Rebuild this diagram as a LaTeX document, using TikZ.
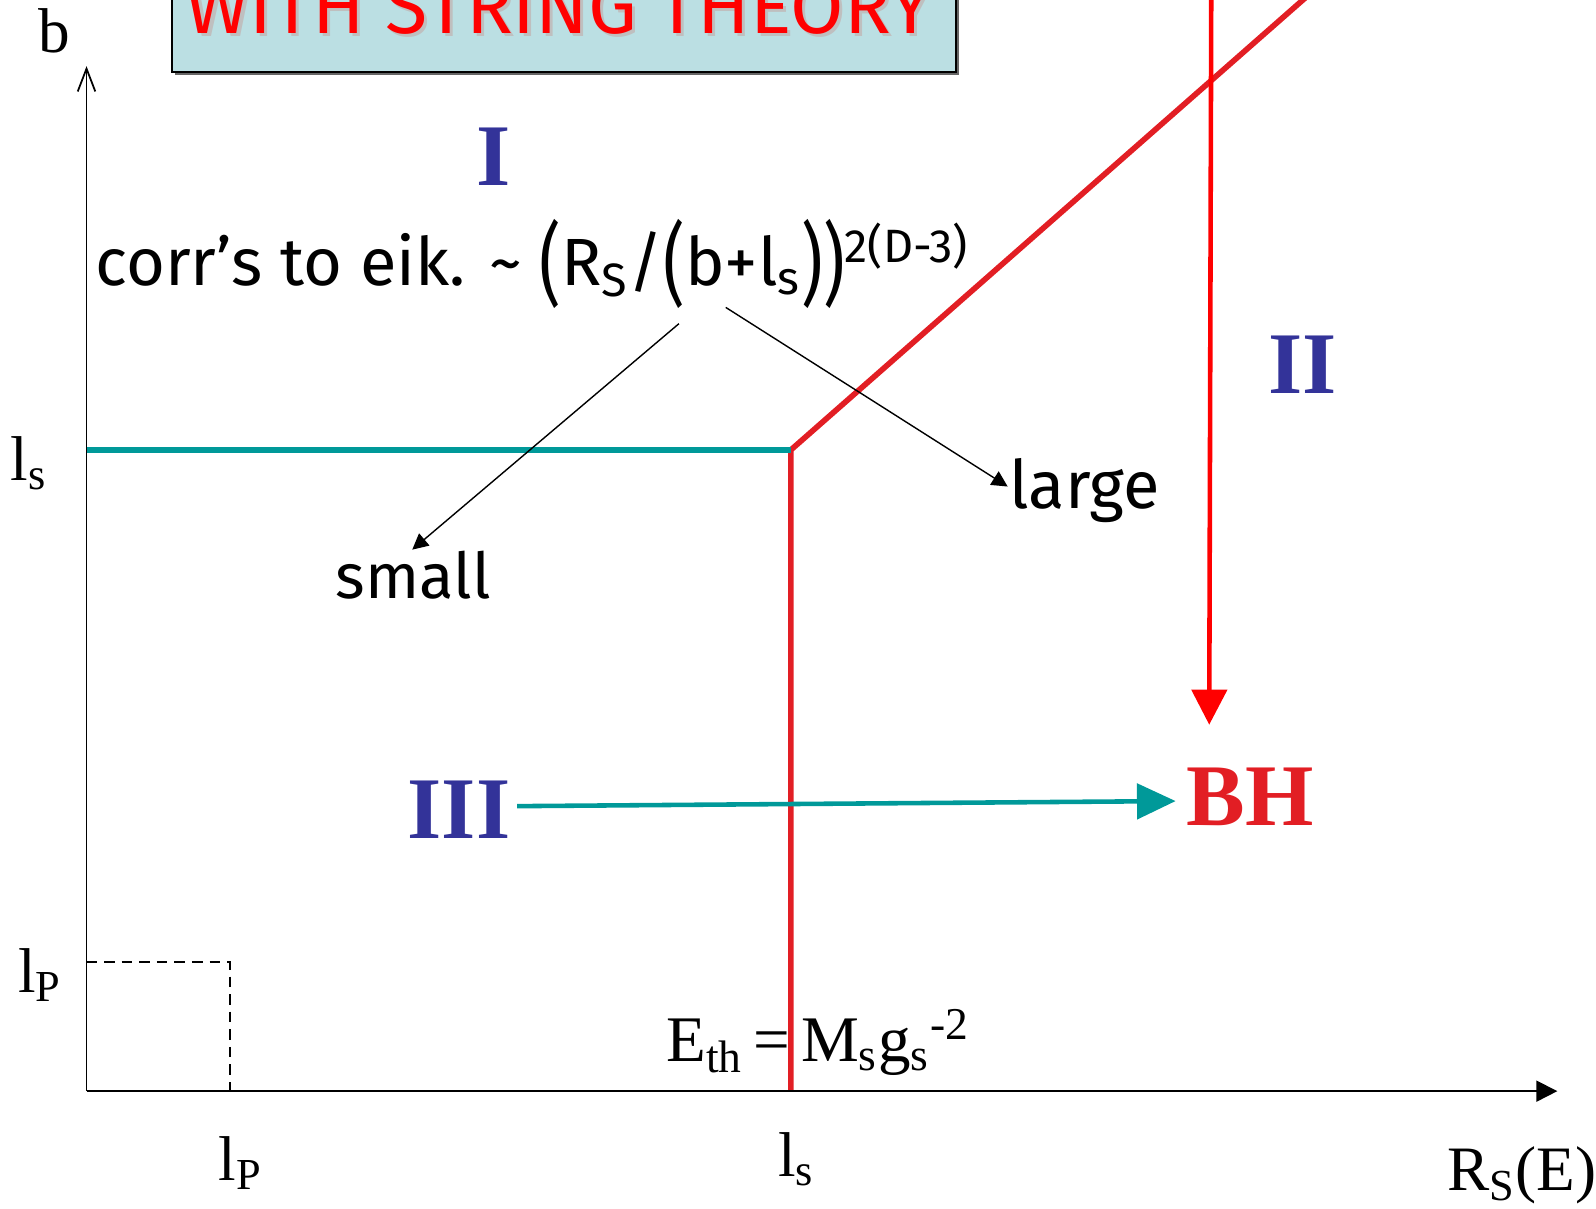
\documentclass[tikz,border=0pt]{standalone}
\usepackage{fontspec}
\setmainfont{Liberation Serif}
\newfontfamily\comic{Fira Sans}
\usetikzlibrary{arrows.meta}
\definecolor{tealc}{RGB}{0,153,153}
\definecolor{redc}{RGB}{226,30,36}
\definecolor{purered}{RGB}{255,0,0}
\definecolor{bluec}{RGB}{51,51,153}
\definecolor{boxfill}{RGB}{187,223,227}
\tikzset{
  lbl/.style={inner sep=0pt, font=\fontsize{18}{20}\selectfont},
  roman/.style={inner sep=0pt, font=\fontsize{25}{28}\selectfont\bfseries, text=bluec},
  comictxt/.style={inner sep=0pt, font=\comic\fontsize{19}{22}\selectfont},
  axis/.style={line width=0.5pt},
  thinarrow/.style={line width=0.4pt, -{Triangle[length=4.5pt,width=4.5pt]}},
}
\begin{document}
\begin{tikzpicture}[x=0.010179cm,y=-0.010179cm]
\useasboundingbox (0,0) rectangle (1568,1187);
% title box
\begin{scope}
\clip (0,0) rectangle (1568,1187);
\fill[black!60] (172,-10) rectangle (942,74);
\draw[fill=boxfill, line width=0.5pt] (169,-10) rectangle (939,71);
\node[inner sep=0pt, anchor=base, font=\comic\fontsize{22}{24}\selectfont, text=black!25] at (552,36) {WITH STRING THEORY};
\node (title) [inner sep=0pt, anchor=base, font=\comic\fontsize{22}{24}\selectfont, text=purered] at (549,33) {WITH STRING THEORY};
% red boundary
\coordinate (rb) at (777,1072);
\coordinate (rk) at (777,442);
\coordinate (rt) at (1305,-22);
\draw[redc, line width=1.6pt, line join=miter] (rb) -- (rk) -- (rt);
% red vertical arrow
\coordinate (va) at (1190,-10);
\coordinate (vb) at (1188,712);
\draw[purered, line width=1.3pt, -{Triangle[length=10pt,width=10pt]}] (va) -- (vb);
\end{scope}
% axes
\coordinate (O) at (85,1072);
\coordinate (ytop) at (85,65);
\coordinate (xend) at (1530,1072);
\draw[axis, -{Straight Barb[length=6.5pt,width=5pt,line width=0.5pt]}] (O) -- (ytop);
\draw[axis, -{Triangle[length=6pt,width=6pt]}] (O) -- (xend);
% teal line
\coordinate (tl) at (85,442);
\draw[tealc, line width=1.5pt] (tl) -- (rk);
% dashed square
\coordinate (d1) at (85,945);
\coordinate (d2) at (226,945);
\coordinate (d3) at (226,1072);
\draw[dashed, line width=0.45pt, dash pattern=on 3pt off 2pt] (d1) -- (d2) -- (d3);
% labels
\node (b) [lbl, anchor=base] at (53,52) {b};
\node (lsy) [lbl, anchor=base west] at (10,472) {l\textsubscript{s}};
\node (lpy) [lbl, anchor=base west] at (17,975) {l\textsubscript{P}};
\node (lpx) [lbl, anchor=base west] at (214,1160) {l\textsubscript{P}};
\node (lsx) [lbl, anchor=base west] at (764,1156) {l\textsubscript{s}};
\node (rse) [lbl, anchor=base west] at (1421,1170) {R\textsubscript{S}(E)};
\node (eth) [inner sep=0pt, anchor=base west, font=\fontsize{18.5}{22}\selectfont] at (654,1043) {E\textsubscript{th}\kern3pt=\kern3pt M\textsubscript{s}g\textsubscript{s}\textsuperscript{-2}};
% roman numerals
\node (I) [roman, anchor=base] at (485,182) {I};
\node (II) [roman, anchor=base] at (1280,387) {II};
\node (III) [roman, anchor=base] at (451,824) {III};
\node (BH) [roman, anchor=base, text=redc] at (1228,811) {BH};
% formula
\node (formula) [comictxt, anchor=base west] at (93,280) {corr’s to eik. \textasciitilde{} \raisebox{-3pt}{\scalebox{1}[1.35]{(}}R\textsubscript{S}/\raisebox{-3pt}{\scalebox{1}[1.35]{(}}b+l\textsubscript{s}\raisebox{-3pt}{\scalebox{1}[1.35]{))}}\textsuperscript{2(D-3)}};
\node (small) [comictxt, anchor=base, font=\comic\fontsize{18}{22}\selectfont] at (406,588) {small};
\node (large) [comictxt, anchor=base west] at (991,500) {large};
\coordinate (fa) at (667,318);
\coordinate (fb) at (713,302);
\coordinate (sa) at (405,540);
\coordinate (la) at (990,478);
\draw[thinarrow] (fa) -- (sa);
\draw[thinarrow] (fb) -- (la);
% teal arrow
\coordinate (ta) at (508,792);
\coordinate (tb) at (1155,787);
\draw[tealc, line width=1.3pt, -{Triangle[length=11pt,width=10pt]}] (ta) -- (tb);
\end{tikzpicture}
\end{document}
